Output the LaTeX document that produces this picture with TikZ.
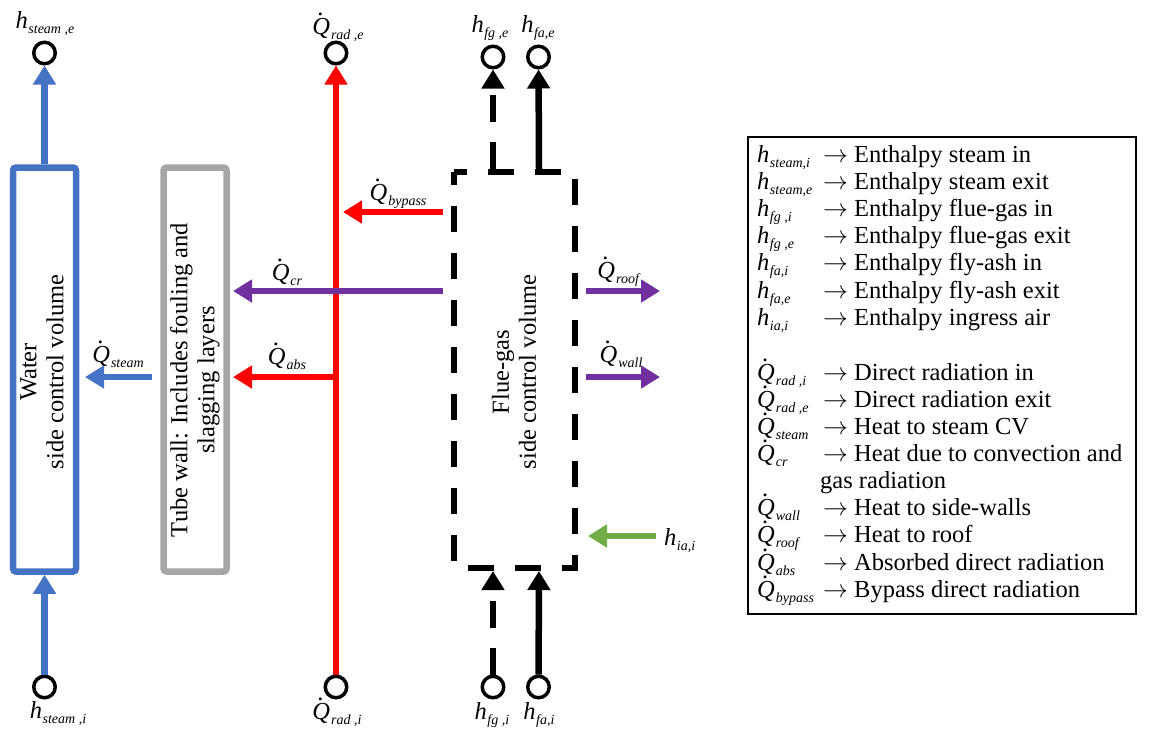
\documentclass[tikz,border=0pt]{standalone}
\usepackage{fontspec}
\setmainfont{Liberation Serif}
\usetikzlibrary{arrows.meta}
\definecolor{cblue}{HTML}{4472C4}
\definecolor{cgray}{HTML}{A6A6A6}
\definecolor{cred}{HTML}{FF0000}
\definecolor{cpurple}{HTML}{7030A0}
\definecolor{cgreen}{HTML}{70AD47}
\newcommand\hs[1]{\textit{h}\kern0.5pt\raisebox{-5pt}{\fontsize{14}{14}\selectfont\textit{#1}}}
\newcommand\Qs[1]{\makebox[0pt][l]{\kern5pt\smash{\raisebox{19pt}{.}}}\textit{Q}\kern1pt\raisebox{-5pt}{\fontsize{14}{14}\selectfont\textit{#1}}}
\begin{document}
\begin{tikzpicture}[x=1pt,y=-1pt,
  every node/.style={font=\fontsize{24.5}{27}\selectfont, inner sep=0pt},
  port/.style={circle, draw=black, line width=3.5pt, minimum size=21.5pt, inner sep=0pt},
  flow/.style={line width=6.5pt, -{Triangle[length=19pt,width=22pt]}},
  dflow/.style={flow, dash pattern=on 27pt off 20pt},
  cvbox/.style={line width=6.5pt, rounded corners=3pt, minimum width=63pt, minimum height=404pt},
  lab/.style={anchor=base},
  legsym/.style={anchor=base west},
  legtxt/.style={anchor=base west}]
\useasboundingbox (0,0) rectangle (1157,732);

% control volume boxes
\node[cvbox, draw=cblue] (water) at (44.5,369.5) {};
\node[rotate=90, align=center] (watertxt) at (42,372) {Water\\side control volume};
\node[cvbox, draw=cgray] (tube) at (195,369.5) {};
\node[rotate=90, align=center] (tubetxt) at (195,380) {Tube wall: Includes fouling and\\slagging layers};

% flue-gas control volume
\draw[line width=6.5pt, dash pattern=on 26pt off 21pt, dash phase=13pt]
  (454,172) -- (575,172) -- (575,568) -- (454,568) -- cycle;
\node[rotate=90, align=center] (fgtxt) at (514,372) {Flue-gas\\side control volume};
\coordinate (fgtopA) at (493,169);
\coordinate (fgtopB) at (539,169);
\coordinate (fgbotA) at (493,571);
\coordinate (fgbotB) at (539,571);
\coordinate (fgl1) at (443,212);
\coordinate (fgl2) at (443,291);
\coordinate (fgr1) at (586,291);
\coordinate (fgr2) at (586,377);
\coordinate (fgr3) at (588,536);

% ports
\node[port] (se) at (44.5,53) {};
\node[port] (si) at (44.5,687) {};
\node[port] (rade) at (336,53) {};
\node[port] (radi) at (336,687) {};
\node[port] (fge) at (493,57) {};
\node[port] (fae) at (538.5,57) {};
\node[port] (fgi) at (493,687) {};
\node[port] (fai) at (538.5,687) {};

% port labels
\node[lab] (lse) at (45,28) {\hs{steam ,e}};
\node[lab] (lsi) at (58,718) {\hs{steam ,i}};
\node[lab] (lrade) at (338,34) {\Qs{rad ,e}};
\node[lab] (lradi) at (337,719) {\Qs{rad ,i}};
\node[lab] (lfge) at (490,32) {\hs{fg ,e}};
\node[lab] (lfae) at (538,32) {\hs{fa,e}};
\node[lab] (lfgi) at (492,719) {\hs{fg ,i}};
\node[lab] (lfai) at (539,719) {\hs{fa,i}};

% steam flow
\draw[flow, cblue] (si) -- (water);
\draw[flow, cblue] (water) -- (se);

% radiation
\coordinate (redbyp) at (343,212);
\coordinate (redabs) at (336,377);
\coordinate (tubeA) at (233,291);
\coordinate (tubeB) at (233,377);
\coordinate (tubeL) at (152,377);
\coordinate (waterR) at (85,377);
\draw[flow, cred] (radi) -- (rade);
\draw[flow, cred] (fgl1) -- (redbyp);
\draw[flow, cred] (redabs) -- (tubeB);
\draw[flow, cpurple] (fgl2) -- (tubeA);
\draw[flow, cblue] (tubeL) -- (waterR);
\node[lab] (lbyp) at (398,200) {\Qs{bypass}};
\node[lab] (lcr) at (287,280) {\Qs{cr}};
\node[lab] (labs) at (287,364) {\Qs{abs}};
\node[lab] (lsteam) at (118,362) {\Qs{steam}};

% flue-gas / fly-ash flows
\draw[dflow] (fgtopA) -- (fge);
\draw[flow] (fgtopB) -- (fae);
\draw[dflow] (fgi) -- (fgbotA);
\draw[flow] (fai) -- (fgbotB);

% right side
\coordinate (roofE) at (660,291);
\coordinate (wallE) at (660,377);
\draw[flow, cpurple] (fgr1) -- (roofE);
\draw[flow, cpurple] (fgr2) -- (wallE);
\node[lab] (lroof) at (619,278) {\Qs{roof}};
\node[lab] (lwall) at (621,362) {\Qs{wall}};
\node[anchor=base west] (lia) at (664,545) {\hs{ia,i}};
\coordinate (iaS) at (656,536);
\draw[flow, cgreen] (iaS) -- (fgr3);

% legend
\node[draw=black, line width=1.2pt, minimum width=388pt, minimum height=477pt] (legend) at (942,375.5) {};
\node[legsym] (s1) at (757,162) {\hs{steam,i}};
\node[legtxt] (t1) at (823,162) {$\rightarrow$ Enthalpy steam in};
\node[legsym] (s2) at (757,189.2) {\hs{steam,e}};
\node[legtxt] (t2) at (823,189.2) {$\rightarrow$ Enthalpy steam exit};
\node[legsym] (s3) at (757,216.4) {\hs{fg ,i}};
\node[legtxt] (t3) at (823,216.4) {$\rightarrow$ Enthalpy flue-gas in};
\node[legsym] (s4) at (757,243.6) {\hs{fg ,e}};
\node[legtxt] (t4) at (823,243.6) {$\rightarrow$ Enthalpy flue-gas exit};
\node[legsym] (s5) at (757,270.8) {\hs{fa,i}};
\node[legtxt] (t5) at (823,270.8) {$\rightarrow$ Enthalpy fly-ash in};
\node[legsym] (s6) at (757,298) {\hs{fa,e}};
\node[legtxt] (t6) at (823,298) {$\rightarrow$ Enthalpy fly-ash exit};
\node[legsym] (s7) at (757,325.2) {\hs{ia,i}};
\node[legtxt] (t7) at (823,325.2) {$\rightarrow$ Enthalpy ingress air};
\node[legsym] (s8) at (757,380) {\Qs{rad ,i}};
\node[legtxt] (t8) at (823,380) {$\rightarrow$ Direct radiation in};
\node[legsym] (s9) at (757,407) {\Qs{rad ,e}};
\node[legtxt] (t9) at (823,407) {$\rightarrow$ Direct radiation exit};
\node[legsym] (s10) at (757,434) {\Qs{steam}};
\node[legtxt] (t10) at (823,434) {$\rightarrow$ Heat to steam CV};
\node[legsym] (s11) at (757,461) {\Qs{cr}};
\node[legtxt] (t11) at (823,461) {$\rightarrow$ Heat due to convection and};
\node[legtxt] (t11b) at (820,488) {gas radiation};
\node[legsym] (s12) at (757,515) {\Qs{wall}};
\node[legtxt] (t12) at (823,515) {$\rightarrow$ Heat to side-walls};
\node[legsym] (s13) at (757,542) {\Qs{roof}};
\node[legtxt] (t13) at (823,542) {$\rightarrow$ Heat to roof};
\node[legsym] (s14) at (757,570) {\Qs{abs}};
\node[legtxt] (t14) at (823,570) {$\rightarrow$ Absorbed direct radiation};
\node[legsym] (s15) at (757,597) {\Qs{bypass}};
\node[legtxt] (t15) at (823,597) {$\rightarrow$ Bypass direct radiation};
\end{tikzpicture}
\end{document}
